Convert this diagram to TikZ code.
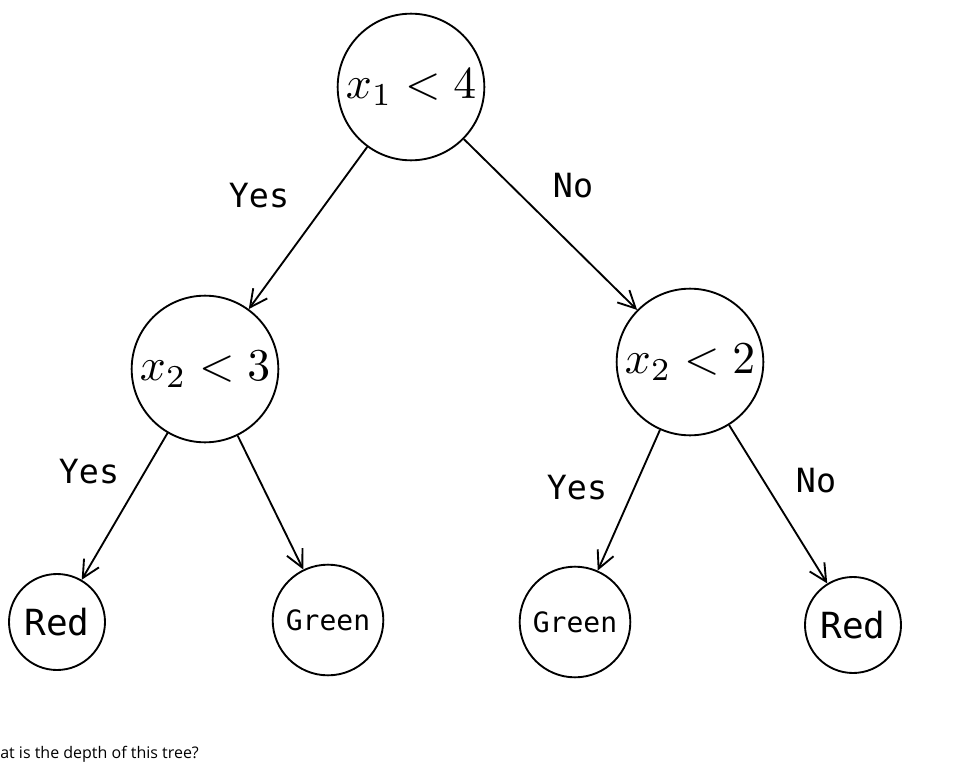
\documentclass[tikz,border=0pt]{standalone}
\usepackage{amsmath}
\usepackage{graphicx}
\usepackage{fontspec}
\usetikzlibrary{arrows.meta}
\newfontfamily\treefont{DejaVu Sans Mono}
\newfontfamily\askfont{Open Sans}
\newcommand{\bigtest}[1]{\scalebox{3.42}{$#1$}}

\tikzset{
  split/.style={draw, circle, line width=1.4pt, inner sep=0pt, minimum size=110pt},
  leaf/.style={draw, circle, line width=1.4pt, inner sep=0pt, font=\treefont},
  branch/.style={line width=1.4pt, -{Straight Barb[length=13pt,width=13pt,line width=1.4pt]}},
  answer/.style={font=\treefont\fontsize{25}{30}\selectfont}
}

\begin{document}
\begin{tikzpicture}[x=0.75pt, y=-0.75pt]
    \useasboundingbox (0,0) rectangle (968,767);

    % Draw split nodes
    \node[split] (root) at (411,87) {\bigtest{x_1 < 4}};
    \node[split] (left) at (205,369) {\bigtest{x_2 < 3}};
    \node[split] (right) at (690,362) {\bigtest{x_2 < 2}};

    % Draw leaves
    \node[leaf, minimum size=72pt, font=\treefont\fontsize{27}{30}\selectfont] (redA) at (57,622) {Red};
    \node[leaf, minimum size=83pt, font=\treefont\fontsize{21}{25}\selectfont] (greenA) at (328,620) {Green};
    \node[leaf, minimum size=83pt, font=\treefont\fontsize{21}{25}\selectfont] (greenB) at (575,622) {Green};
    \node[leaf, minimum size=72pt, font=\treefont\fontsize{27}{30}\selectfont] (redB) at (853,625) {Red};

    % Draw branches
    \foreach \a/\b in {root/left, root/right, left/redA, left/greenA, right/greenB, right/redB}
      \draw[branch] (\a) -- (\b);

    % Branch answers
    \node[answer] (yesA) at (259,196) {Yes};
    \node[answer] (noA) at (573,186) {No};
    \node[answer] (yesB) at (89,472) {Yes};
    \node[answer] (yesC) at (577,488) {Yes};
    \node[answer] (noB) at (816,481) {No};

    % Question below
    \node[anchor=west, inner sep=0pt, font=\askfont\fontsize{12}{14}\selectfont] (ask) at (0,754) {at is the depth of this tree?};

  \end{tikzpicture}
\end{document}
